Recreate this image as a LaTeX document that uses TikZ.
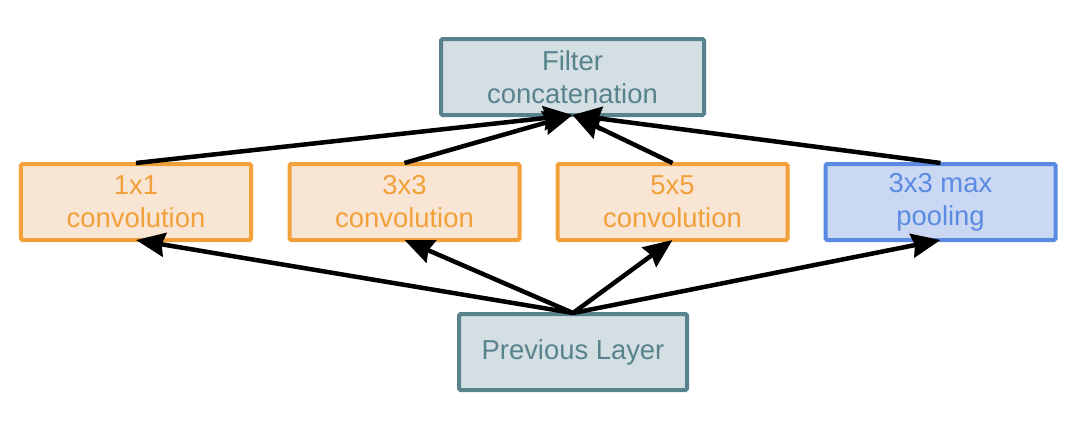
\documentclass[tikz,border=0pt]{standalone}
\usepackage{fontspec}
\setmainfont{Liberation Sans}
\usetikzlibrary{arrows.meta}
\definecolor{tealb}{RGB}{88,130,140}
\definecolor{tealf}{RGB}{211,223,227}
\definecolor{orab}{RGB}{241,160,58}
\definecolor{oraf}{RGB}{248,229,211}
\definecolor{blub}{RGB}{90,138,225}
\definecolor{bluf}{RGB}{203,216,243}
\begin{document}
\begin{tikzpicture}[x=1bp,y=-1bp,
  box/.style={draw, line width=4bp, minimum width=230bp, minimum height=76bp, inner sep=0pt,
    align=center, font=\fontsize{27.5}{33}\selectfont, rounded corners=1.5bp},
  tealbox/.style={box, draw=tealb, fill=tealf, text=tealb},
  orabox/.style={box, draw=orab, fill=oraf, text=orab},
  blubox/.style={box, draw=blub, fill=bluf, text=blub},
  conn/.style={line width=4.5bp, -{Stealth[length=29bp,width=24bp,inset=3bp]}}]
\useasboundingbox (0,0) rectangle (1076,420);
\node[tealbox, minimum width=263bp] (filt) at (572.5,77) {Filter\\concatenation};
\node[orabox] (c1) at (136,202) {1x1\\convolution};
\node[orabox] (c3) at (404.5,202) {3x3\\convolution};
\node[orabox] (c5) at (672.5,202) {5x5\\convolution};
\node[blubox] (mp) at (940.5,202) {3x3 max\\pooling};
\node[tealbox, minimum width=228bp] (prev) at (573,352) {Previous Layer};
\coordinate (src) at ([yshift=-1bp]prev.north);
\coordinate (dst) at ([yshift=2bp]filt.south);
\foreach \n in {c1,c3,c5,mp}{
  \draw[conn] (src) -- ([yshift=2bp]\n.south);
  \draw[conn] ([yshift=-1bp]\n.north) -- (dst);
}
\end{tikzpicture}
\end{document}
